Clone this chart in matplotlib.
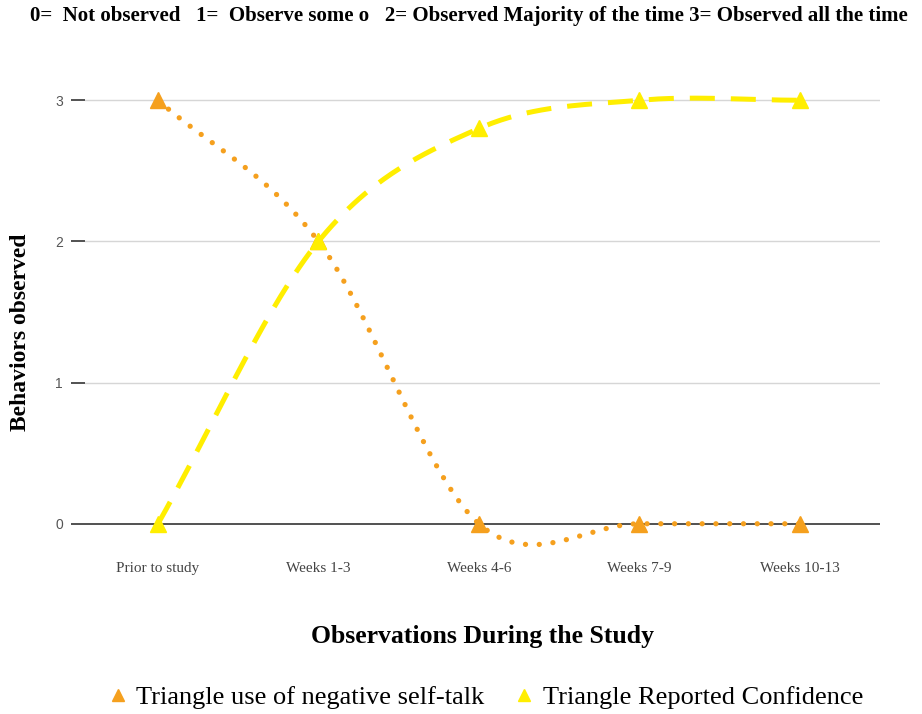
import numpy as np
import matplotlib.pyplot as plt
from matplotlib.lines import Line2D

categories = ["Prior to study", "Weeks 1-3", "Weeks 4-6", "Weeks 7-9", "Weeks 10-13"]
self_talk = [3, 2, 0, 0, 0]
confidence = [0, 2, 2.8, 3, 3]
y_ticks = [0, 1, 2, 3]

ORANGE = "#F5A01E"
YELLOW = "#FFEE00"
SERIF = ["Liberation Serif", "DejaVu Serif"]


def smooth(ys, n=60):
    """Catmull-Rom style curve through the points (like the chart's curved lines)."""
    ys = np.asarray(ys, float)
    k = len(ys)
    m = np.empty(k)
    m[1:-1] = (ys[2:] - ys[:-2]) / 2
    m[0] = ys[1] - ys[0]
    m[-1] = ys[-1] - ys[-2]
    xs_out, ys_out = [], []
    t = np.linspace(0, 1, n)
    h00 = 2 * t**3 - 3 * t**2 + 1
    h10 = t**3 - 2 * t**2 + t
    h01 = -2 * t**3 + 3 * t**2
    h11 = t**3 - t**2
    for i in range(k - 1):
        xs_out.append(i + t)
        ys_out.append(h00 * ys[i] + h10 * m[i] + h01 * ys[i + 1] + h11 * m[i + 1])
    return np.concatenate(xs_out), np.concatenate(ys_out)


fig = plt.figure(figsize=(9.22, 7.14), dpi=100)
# y=3 at 100px, y=0 at 524px
ax = fig.add_axes([85 / 922, 1 - 552 / 714, 795 / 922, (552 - 72) / 714])

x = np.arange(len(categories))
for v in y_ticks:
    ax.axhline(v, color="#d6d6d6" if v else "#222222", lw=1.0 if v else 1.1, zorder=1)

sx, sy = smooth(self_talk)
ax.plot(sx, sy, color=ORANGE, lw=3.8, linestyle=(0, (0.01, 2.6)),
        dash_capstyle="round", zorder=3)
ax.plot(x, self_talk, linestyle="none", marker="^", ms=12, color=ORANGE, zorder=4)

cx, cy = smooth(confidence)
ax.plot(cx, cy, color=YELLOW, lw=3.6, linestyle=(0, (5, 3.2)), zorder=5)
ax.plot(x, confidence, linestyle="none", marker="^", ms=12, color=YELLOW, zorder=6)

ax.set_xlim(-0.455, 4.5)
ax.set_ylim(-0.2, 3.2)
ax.set_yticks(y_ticks)
ax.set_yticklabels([str(v) for v in y_ticks], fontsize=10, color="#555555",
                   family=["Liberation Sans", "DejaVu Sans"])
ax.tick_params(axis="y", length=10, width=1.2, color="#333333", pad=6)
ax.set_xticks(x)
ax.set_xticklabels(categories, fontsize=11, color="#444444", family=SERIF)
ax.tick_params(axis="x", length=0, pad=7)
for s in ax.spines.values():
    s.set_visible(False)

fig.text(482 / 922, 1 - 636 / 714, "Observations During the Study", fontsize=18.5,
         fontweight="bold", family=SERIF, ha="center", va="center")
fig.text(20 / 922, 1 - 332 / 714, "Behaviors observed", rotation=90, fontsize=17,
         fontweight="bold", family=SERIF, ha="center", va="center")

fig.text(30 / 922, 1 - 16 / 714,
         "0=  Not observed   1=  Observe some o   2= Observed Majority of the time 3= Observed all the time",
         fontsize=15, fontweight="bold", family=SERIF, ha="left", va="center")

handles = [Line2D([], [], linestyle="none", marker="^", ms=8, color=ORANGE),
           Line2D([], [], linestyle="none", marker="^", ms=8, color=YELLOW)]
fig.legend(handles, ["Triangle use of negative self-talk", "Triangle Reported Confidence"],
           loc="center", bbox_to_anchor=(484 / 922, 1 - 697 / 714), ncol=2, frameon=False,
           prop={"family": SERIF, "size": 19}, handletextpad=0.2, columnspacing=1.0,
           handlelength=1.0)

fig.savefig("out.png", dpi=100)
